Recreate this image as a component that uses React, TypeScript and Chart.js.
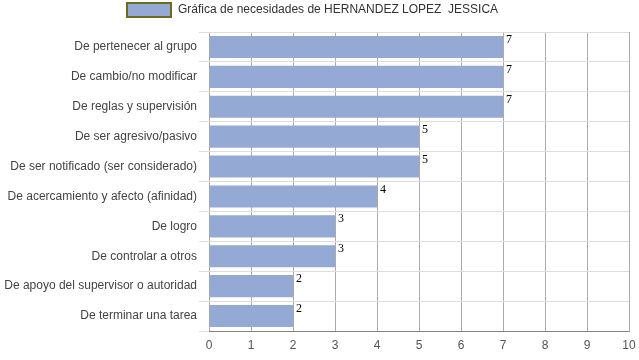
import React, { useEffect, useRef } from "react";
import { Chart, registerables } from "chart.js";

Chart.register(...registerables);

const categories = [
  "De pertenecer al grupo",
  "De cambio/no modificar",
  "De reglas y supervisión",
  "De ser agresivo/pasivo",
  "De ser notificado (ser considerado)",
  "De acercamiento y afecto (afinidad)",
  "De logro",
  "De controlar a otros",
  "De apoyo del supervisor o autoridad",
  "De terminar una tarea",
];
const values = [7, 7, 7, 5, 5, 4, 3, 3, 2, 2];
const xMin = 0;
const xMax = 10;
const legendLabel = "Gráfica de necesidades de HERNANDEZ LOPEZ  JESSICA";

const BAR_COLOR = "#95a9d5";
const LEGEND_BORDER = "#6b6b1f";

const legendPlugin = {
  id: "customLegend",
  afterDraw(chart: any) {
    const ctx = chart.ctx;
    ctx.save();
    ctx.font = "12px Arial, 'Liberation Sans', sans-serif";
    const tw = ctx.measureText(legendLabel).width;
    const boxW = 44;
    const boxH = 14;
    const gap = 7;
    const total = boxW + gap + tw;
    const x0 = Math.round(chart.width / 2 - total / 2) - 7;
    const y0 = 3;
    ctx.fillStyle = BAR_COLOR;
    ctx.fillRect(x0, y0, boxW, boxH);
    ctx.lineWidth = 2;
    ctx.strokeStyle = LEGEND_BORDER;
    ctx.strokeRect(x0, y0, boxW, boxH);
    ctx.fillStyle = "#333333";
    ctx.textBaseline = "middle";
    ctx.textAlign = "left";
    ctx.fillText(legendLabel, x0 + boxW + gap, y0 + boxH / 2);
    ctx.restore();
  },
};

const valueLabelPlugin = {
  id: "valueLabels",
  afterDatasetsDraw(chart: any) {
    const ctx = chart.ctx;
    const meta = chart.getDatasetMeta(0);
    ctx.save();
    ctx.font = "12px 'Times New Roman', 'Liberation Serif', serif";
    ctx.fillStyle = "#000000";
    ctx.textBaseline = "top";
    ctx.textAlign = "left";
    meta.data.forEach((bar: any, i: number) => {
      const top = bar.y - bar.height / 2;
      ctx.fillText(String(values[i]), bar.x + 3, top - 2);
    });
    ctx.restore();
  },
};

export default function App() {
  const ref = useRef<HTMLCanvasElement | null>(null);
  useEffect(() => {
    if (!ref.current) return;
    const chart = new Chart(ref.current, {
      type: "bar",
      data: {
        labels: categories,
        datasets: [
          {
            label: legendLabel,
            data: values,
            backgroundColor: BAR_COLOR,
            borderWidth: 0,
            barPercentage: 0.74,
            categoryPercentage: 1,
          },
        ],
      },
      options: {
        indexAxis: "y",
        animation: false,
        responsive: false,
        maintainAspectRatio: false,
        layout: { padding: { top: 32, right: 10, left: 0, bottom: 0 } },
        plugins: {
          legend: { display: false },
          tooltip: { enabled: false },
        },
        scales: {
          x: {
            min: xMin,
            max: xMax,
            z: 1,
            ticks: {
              stepSize: 1,
              color: "#555555",
              font: { family: "Arial, 'Liberation Sans', sans-serif", size: 12 },
              padding: 7,
            },
            grid: {
              color: "rgba(0,0,0,0.33)",
              drawTicks: false,
            },
            border: { color: "rgba(0,0,0,0.4)" },
            afterFit(scale: any) {
              scale.height = 29;
              scale.paddingRight = 0;
              scale.paddingLeft = 0;
            },
          },
          y: {
            ticks: {
              color: "#444444",
              font: { family: "Arial, 'Liberation Sans', sans-serif", size: 12 },
              padding: 2,
            },
            grid: {
              color: "#dddddd",
              tickLength: 10,
              offset: true,
            },
            border: { display: false },
            afterFit(scale: any) {
              scale.width = 209;
            },
          },
        },
      },
      plugins: [legendPlugin, valueLabelPlugin],
    });
    return () => chart.destroy();
  }, []);
  return (
    <div style={{ position: "absolute", left: 0, top: 0, width: 639, height: 360, background: "#fff" }}>
      <canvas ref={ref} width={639} height={360} style={{ width: 639, height: 360 }} />
    </div>
  );
}
